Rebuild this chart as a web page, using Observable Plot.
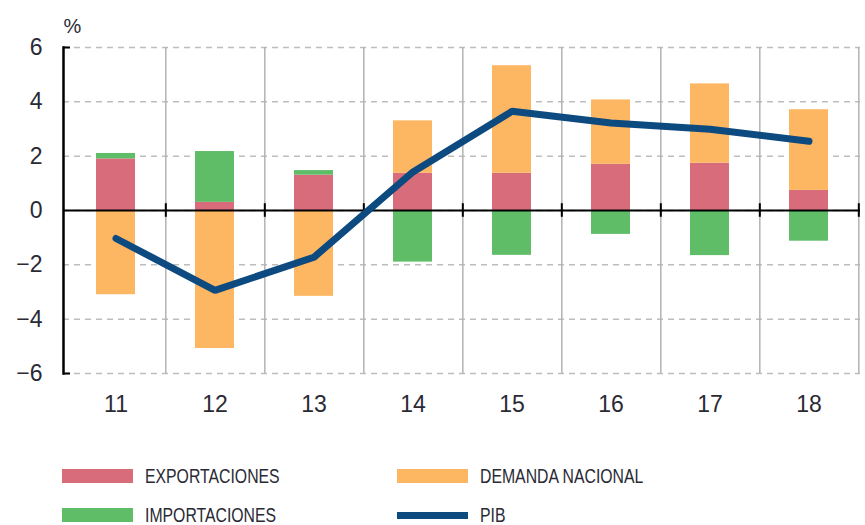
<!DOCTYPE html>
<html><head><meta charset="utf-8">
<script src="https://cdn.jsdelivr.net/npm/d3@7"></script>
<script src="https://cdn.jsdelivr.net/npm/@observablehq/plot@0.6"></script>
<style>
body{margin:0;background:#fff;font-family:"Liberation Sans",Arial,sans-serif;}
#wrap{position:relative;width:865px;height:525px;overflow:hidden;}
#chart{position:absolute;left:0;top:0;}
.legend{position:absolute;left:0;top:440px;width:865px;height:85px;}
.item{position:absolute;height:20px;display:flex;align-items:center;font-family:"Liberation Sans",Arial,sans-serif;font-size:20px;color:#2a2a35;white-space:nowrap;}
.item .tx{display:inline-block;transform:scaleX(0.79);transform-origin:left center;}
.sw{width:71px;height:14px;margin-right:12px;flex:none;}
.swl{width:71px;height:7px;margin-right:12px;flex:none;}
</style></head><body>
<div id="wrap"><div id="chart"></div><div class="legend" id="legend"></div></div>
<script>
const years = ["11","12","13","14","15","16","17","18"];
const exportaciones = [1.9, 0.3, 1.3, 1.37, 1.37, 1.7, 1.74, 0.74];
const importaciones = [0.2, 1.87, 0.17, -1.9, -1.65, -0.88, -1.66, -1.13];
const demanda = [-3.1, -5.08, -3.16, 1.93, 3.96, 2.37, 2.92, 2.97];
const pib = [-1.03, -2.94, -1.72, 1.42, 3.65, 3.22, 2.99, 2.55];
const seriesNames = ["EXPORTACIONES", "IMPORTACIONES", "DEMANDA NACIONAL"];
const seriesColors = ["#d86c7a", "#5fbd68", "#fdb762"];
const pibName = "PIB";
const pibColor = "#0d4a80";
const yTicks = [-6, -4, -2, 0, 2, 4, 6];

const W = 865, H = 440, ML = 63, MR = 5, MT = 47, MB = 67;
const bw = (W - ML - MR) / years.length;
const FONT = "'Liberation Sans', Arial, sans-serif";

const rows = [];
years.forEach((y, i) => {
  rows.push({year: y, series: seriesNames[0], value: exportaciones[i]});
  rows.push({year: y, series: seriesNames[1], value: importaciones[i]});
  rows.push({year: y, series: seriesNames[2], value: demanda[i]});
});
const pibRows = years.map((y, i) => ({year: y, value: pib[i]}));

const chart = Plot.plot({
  width: W, height: H, marginLeft: ML, marginRight: MR, marginTop: MT, marginBottom: MB,
  x: {domain: years, padding: 0, label: null},
  y: {domain: [-6, 6], label: null},
  color: {domain: seriesNames, range: seriesColors},
  style: {fontFamily: FONT, fontSize: "23px", color: "#2a2a35", background: "white"},
  marks: [
    Plot.gridY({ticks: yTicks, stroke: "#bdbdbd", strokeOpacity: 1, strokeDasharray: "6,5", strokeWidth: 1.5}),
    Plot.ruleX(years, {x: d => d, dx: bw / 2, y1: -6, y2: 6, stroke: "#b3b3b3", strokeWidth: 1.5}),
    Plot.barY(rows, {x: "year", y: "value", fill: "series", order: seriesNames, insetLeft: 30, insetRight: 30}),
    Plot.ruleY([0], {stroke: "#000", strokeWidth: 2}),
    Plot.ruleX(years, {x: d => d, dx: bw / 2, y1: -0.25, y2: 0.25, stroke: "#000", strokeWidth: 2}),
    Plot.frame({anchor: "left", stroke: "#000", strokeWidth: 2.5}),
    Plot.axisY({ticks: yTicks, tickSize: 0, tickPadding: 21, label: null, fontSize: 23, fontFamily: FONT}),
    Plot.axisY({ticks: [-6, 6], tickSize: -7, tickFormat: () => "", label: null, stroke: "#000", strokeWidth: 2}),
    Plot.axisX({tickSize: 0, tickPadding: 22, label: null, fontSize: 23, fontFamily: FONT}),
    Plot.line(pibRows, {x: "year", y: "value", stroke: pibColor, strokeWidth: 7, strokeLinejoin: "miter"}),
    Plot.text(["%"], {text: d => d, frameAnchor: "top-left", dy: -29, textAnchor: "start", fontSize: 20, fontFamily: FONT, fill: "#2a2a35"})
  ]
});
document.getElementById("chart").appendChild(chart);

const legendItems = [
  {name: seriesNames[0], color: seriesColors[0], left: 62, top: 26, line: false},
  {name: seriesNames[2], color: seriesColors[2], left: 397, top: 26, line: false},
  {name: seriesNames[1], color: seriesColors[1], left: 62, top: 65, line: false},
  {name: pibName, color: pibColor, left: 397, top: 65, line: true}
];
const leg = document.getElementById("legend");
legendItems.forEach(it => {
  const d = document.createElement("div");
  d.className = "item";
  d.style.left = it.left + "px";
  d.style.top = it.top + "px";
  const s = document.createElement("span");
  s.className = it.line ? "swl" : "sw";
  s.style.background = it.color;
  const t = document.createElement("span");
  t.className = "tx";
  t.textContent = it.name;
  d.appendChild(s); d.appendChild(t);
  leg.appendChild(d);
});
</script>
</body></html>
